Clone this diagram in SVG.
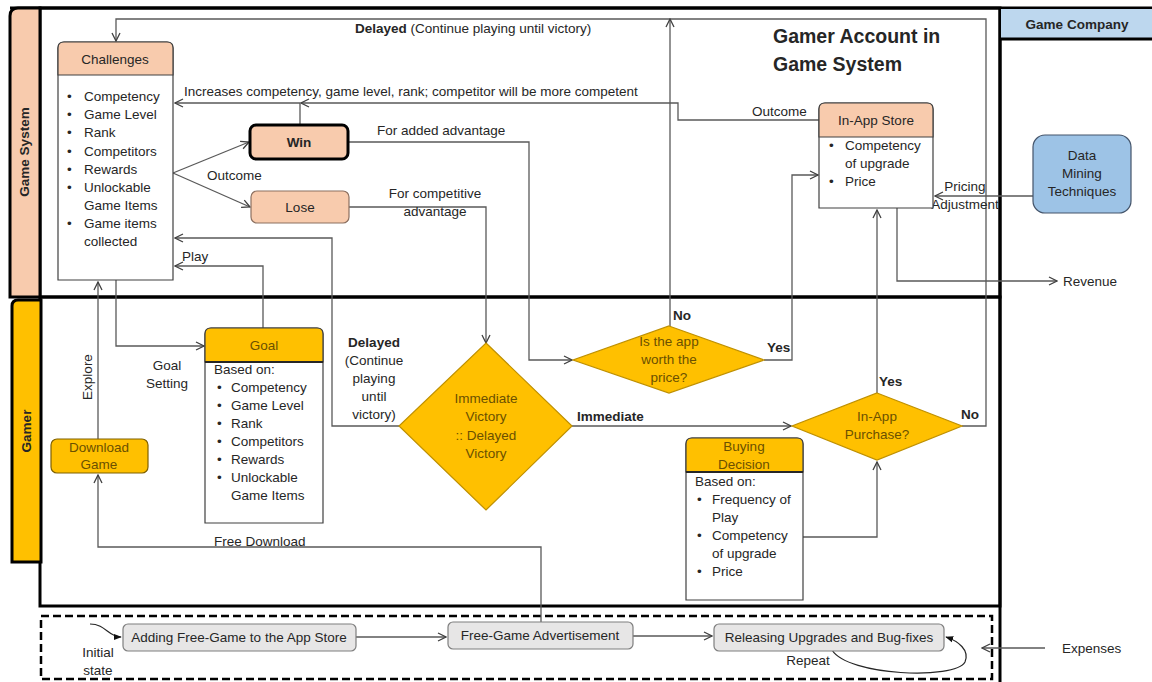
<svg xmlns="http://www.w3.org/2000/svg" width="1152" height="682" viewBox="0 0 1152 682">
<defs>
<marker id="arr" viewBox="0 0 10 10" refX="9" refY="5" markerWidth="10" markerHeight="10" markerUnits="userSpaceOnUse" orient="auto">
<path d="M1,1 L9,5 L1,9" fill="none" stroke="#404040" stroke-width="1.3"/>
</marker>
<marker id="arrf" viewBox="0 0 10 10" refX="9" refY="5" markerWidth="8" markerHeight="8" markerUnits="userSpaceOnUse" orient="auto">
<path d="M0,1 L10,5 L0,9 Z" fill="#111"/>
</marker>
</defs>
<style>
text{font-family:"Liberation Sans",Arial,sans-serif;font-size:13.5px;fill:#262626}
.b{font-weight:bold}
.c{text-anchor:middle}
.g{fill:#6b5000}
.con{fill:none;stroke:#595959;stroke-width:1.3}
.arr{marker-end:url(#arr)}
.lane{fill:none;stroke:#000;stroke-width:3}
.peach{fill:#f8cbad}
.gold{fill:#ffc000}
.box{fill:#fff;stroke:#404040;stroke-width:1.2}
.proc{fill:#e7e6e6;stroke:#7f7f7f;stroke-width:1.2}
.dia{fill:#ffc000;stroke:#bf9000;stroke-width:1.2}
</style>
<rect width="1152" height="682" fill="#fff"/>

<!-- lanes -->
<g id="lanes">
<rect x="40" y="8" width="960" height="289" class="lane"/>
<rect x="40" y="297" width="960" height="309" class="lane"/>
<line x1="10" y1="8" x2="1152" y2="8" stroke="#000" stroke-width="3"/>
<line x1="1000" y1="8" x2="1000" y2="682" stroke="#000" stroke-width="3"/>
</g>
<g id="lane-game-system">
<path d="M10,297 V16 Q10,8 18,8 H40 V297 Z" fill="#f8cbad" stroke="#000" stroke-width="3"/>
<text class="b c" transform="translate(29,152) rotate(-90)">Game System</text>
</g>
<g id="lane-gamer">
<path d="M12,562 V306 Q12,300 18,300 H41 V562 Z" fill="#ffc000" stroke="#000" stroke-width="3"/>
<text class="b c" transform="translate(31,431) rotate(-90)">Gamer</text>
</g>
<g id="lane-game-company">
<rect x="1001" y="9" width="151" height="30" fill="#bdd7ee"/>
<line x1="1000" y1="39" x2="1152" y2="39" stroke="#000" stroke-width="3"/>
<text x="1077" y="29" class="b c">Game Company</text>
</g>
<g id="dashed-area">
<rect x="41" y="616" width="951" height="63" fill="none" stroke="#000" stroke-width="2.5" stroke-dasharray="8,4"/>
</g>

<g id="title">
<text x="773" y="43" class="b" style="font-size:19.5px">Gamer Account in</text>
<text x="773" y="71" class="b" style="font-size:19.5px">Game System</text>
</g>

<!-- connectors -->
<g id="connectors">
<path d="M962,426 H986 V19 H116 V41" class="con arr"/>
<path d="M670,326 V19" class="con arr"/>
<path d="M819,120 H678 V103 H301" class="con arr"/>
<path d="M300,125 V103 H175" class="con arr"/>
<path d="M173,173 L249,142" class="con arr"/>
<path d="M173,173 L250,207" class="con arr"/>
<path d="M348,142 H529 V360 H572" class="con arr"/>
<path d="M349,207 H486 V343" class="con arr"/>
<path d="M764,360 H792 V175 H818" class="con arr"/>
<path d="M897,208 V281 H1057" class="con arr"/>
<path d="M1033,196 H935" class="con arr"/>
<path d="M877,393 V210" class="con arr"/>
<path d="M116,280 V346 H204" class="con arr"/>
<path d="M263,328 V266 H175" class="con arr"/>
<path d="M98,439 V282" class="con arr"/>
<path d="M399,426 H332 V238 H175" class="con arr"/>
<path d="M541,623 V547 H98 V475" class="con arr"/>
<path d="M572,426 H791" class="con arr"/>
<path d="M803,537 H877 V462" class="con arr"/>
<path d="M356,637 H446" class="con arr"/>
<path d="M633,636 H712" class="con arr"/>
<path d="M832,650 C848,676 955,680 965,662 C970,650 958,641 946,637" fill="none" stroke="#262626" stroke-width="1.2" marker-end="url(#arrf)"/>
<path d="M90,624 C106,624 108,637 121,637" fill="none" stroke="#262626" stroke-width="1.2" marker-end="url(#arrf)"/>
<path d="M1045,648 H982" class="con arr"/>
</g>

<!-- connector labels -->
<g id="labels">
<text x="355" y="33" class="b">Delayed <tspan style="font-weight:normal">(Continue playing until victory)</tspan></text>
<text x="184" y="96">Increases competency, game level, rank; competitor  will be more competent</text>
<text x="752" y="116">Outcome</text>
<text x="377" y="135">For added advantage</text>
<text x="207" y="180">Outcome</text>
<text x="435" y="198" class="c">For competitive</text>
<text x="435" y="216" class="c">advantage</text>
<text x="182" y="261">Play</text>
<text x="167" y="370" class="c">Goal</text>
<text x="167" y="388" class="c">Setting</text>
<text class="c" transform="translate(92,377) rotate(-90)">Explore</text>
<text x="374" y="347" class="b c">Delayed</text>
<text x="374" y="365" class="c">(Continue</text>
<text x="374" y="383" class="c">playing</text>
<text x="374" y="401" class="c">until</text>
<text x="374" y="419" class="c">victory)</text>
<text x="577" y="421" class="b">Immediate</text>
<text x="673" y="320" class="b">No</text>
<text x="767" y="352" class="b">Yes</text>
<text x="879" y="386" class="b">Yes</text>
<text x="961" y="419" class="b">No</text>
<text x="965" y="191" class="c">Pricing</text>
<text x="965" y="209" class="c">Adjustment</text>
<text x="1063" y="286">Revenue</text>
<text x="214" y="546">Free Download</text>
<text x="98" y="657" class="c">Initial</text>
<text x="98" y="675" class="c">state</text>
<text x="808" y="665" class="c">Repeat</text>
<text x="1062" y="653">Expenses</text>
</g>

<!-- nodes -->
<g id="challenges">
<path d="M58,280 V48 Q58,42 64,42 H167 Q173,42 173,48 V280 Z" class="box"/>
<path d="M58,75 V48 Q58,42 64,42 H167 Q173,42 173,48 V75 Z" class="peach" stroke="#404040" stroke-width="1.2"/>
<text x="115" y="64" class="c">Challenges</text>
<text x="67" y="101">•</text><text x="84" y="101">Competency</text>
<text x="67" y="119">•</text><text x="84" y="119">Game Level</text>
<text x="67" y="137">•</text><text x="84" y="137">Rank</text>
<text x="67" y="156">•</text><text x="84" y="156">Competitors</text>
<text x="67" y="174">•</text><text x="84" y="174">Rewards</text>
<text x="67" y="192">•</text><text x="84" y="192">Unlockable</text>
<text x="84" y="210">Game Items</text>
<text x="67" y="228">•</text><text x="84" y="228">Game items</text>
<text x="84" y="246">collected</text>
</g>
<g id="win">
<rect x="250" y="125" width="98" height="34" rx="6" class="peach" stroke="#000" stroke-width="3"/>
<text x="299" y="147" class="b c">Win</text>
</g>
<g id="lose">
<rect x="251" y="191" width="98" height="32" rx="6" class="peach" stroke="#8c7060" stroke-width="1.2"/>
<text x="300" y="212" class="c">Lose</text>
</g>
<g id="in-app-store">
<path d="M819,208 V109 Q819,103 825,103 H927 Q933,103 933,109 V208 Z" class="box"/>
<path d="M819,137 V109 Q819,103 825,103 H927 Q933,103 933,109 V137 Z" class="peach" stroke="#404040" stroke-width="1.2"/>
<text x="876" y="125" class="c">In-App Store</text>
<text x="829" y="150">•</text><text x="845" y="150">Competency</text>
<text x="845" y="168">of upgrade</text>
<text x="829" y="186">•</text><text x="845" y="186">Price</text>
</g>
<g id="data-mining">
<rect x="1033" y="135" width="98" height="78" rx="12" fill="#9dc3e6" stroke="#44546a" stroke-width="1.2"/>
<text x="1082" y="160" class="c">Data</text>
<text x="1082" y="178" class="c">Mining</text>
<text x="1082" y="196" class="c">Techniques</text>
</g>
<g id="goal">
<path d="M205,523 V334 Q205,328 211,328 H317 Q323,328 323,334 V523 Z" class="box"/>
<path d="M205,362 V334 Q205,328 211,328 H317 Q323,328 323,334 V362 Z" class="gold" stroke="#404040" stroke-width="1.2"/>
<line x1="205" y1="362" x2="323" y2="362" stroke="#262626" stroke-width="2"/>
<text x="264" y="350" class="c g">Goal</text>
<text x="214" y="374">Based on:</text>
<text x="217" y="392">•</text><text x="231" y="392">Competency</text>
<text x="217" y="410">•</text><text x="231" y="410">Game Level</text>
<text x="217" y="428">•</text><text x="231" y="428">Rank</text>
<text x="217" y="446">•</text><text x="231" y="446">Competitors</text>
<text x="217" y="464">•</text><text x="231" y="464">Rewards</text>
<text x="217" y="482">•</text><text x="231" y="482">Unlockable</text>
<text x="231" y="500">Game Items</text>
</g>
<g id="download-game">
<rect x="51" y="439" width="97" height="34" rx="6" class="gold" stroke="#7f6000" stroke-width="1.2"/>
<text x="99" y="452" class="c g">Download</text>
<text x="99" y="469" class="c g">Game</text>
</g>
<g id="victory-decision">
<polygon points="486,343 572,426 486,510 399,426" class="dia"/>
<text x="486" y="403" class="c g">Immediate</text>
<text x="486" y="421" class="c g">Victory</text>
<text x="486" y="440" class="c g">::  Delayed</text>
<text x="486" y="458" class="c g">Victory</text>
</g>
<g id="worth-price">
<polygon points="669,326 764,360 669,393 573,360" class="dia"/>
<text x="669" y="346" class="c g">Is the app</text>
<text x="669" y="364" class="c g">worth  the</text>
<text x="669" y="382" class="c g">price?</text>
</g>
<g id="in-app-purchase">
<polygon points="877,393 962,426 877,460 792,426" class="dia"/>
<text x="877" y="421" class="c g">In-App</text>
<text x="877" y="439" class="c g">Purchase?</text>
</g>
<g id="buying-decision">
<path d="M686,600 V444 Q686,438 692,438 H797 Q803,438 803,444 V600 Z" class="box"/>
<path d="M686,472 V444 Q686,438 692,438 H797 Q803,438 803,444 V472 Z" class="gold" stroke="#404040" stroke-width="1.2"/>
<line x1="686" y1="472" x2="803" y2="472" stroke="#262626" stroke-width="2"/>
<text x="744" y="451" class="c g">Buying</text>
<text x="744" y="469" class="c g">Decision</text>
<text x="695" y="486">Based on:</text>
<text x="697" y="504">•</text><text x="712" y="504">Frequency of</text>
<text x="712" y="522">Play</text>
<text x="697" y="540">•</text><text x="712" y="540">Competency</text>
<text x="712" y="558">of upgrade</text>
<text x="697" y="576">•</text><text x="712" y="576">Price</text>
</g>
<g id="adding-free-game">
<rect x="123" y="624" width="233" height="27" rx="5" class="proc"/>
<text x="239" y="642" class="c">Adding Free-Game to the App Store</text>
</g>
<g id="advertisement">
<rect x="448" y="622" width="185" height="27" rx="5" class="proc"/>
<text x="540" y="640" class="c">Free-Game Advertisement</text>
</g>
<g id="releasing-upgrades">
<rect x="714" y="624" width="230" height="27" rx="5" class="proc"/>
<text x="829" y="642" class="c">Releasing Upgrades and Bug-fixes</text>
</g>
</svg>
